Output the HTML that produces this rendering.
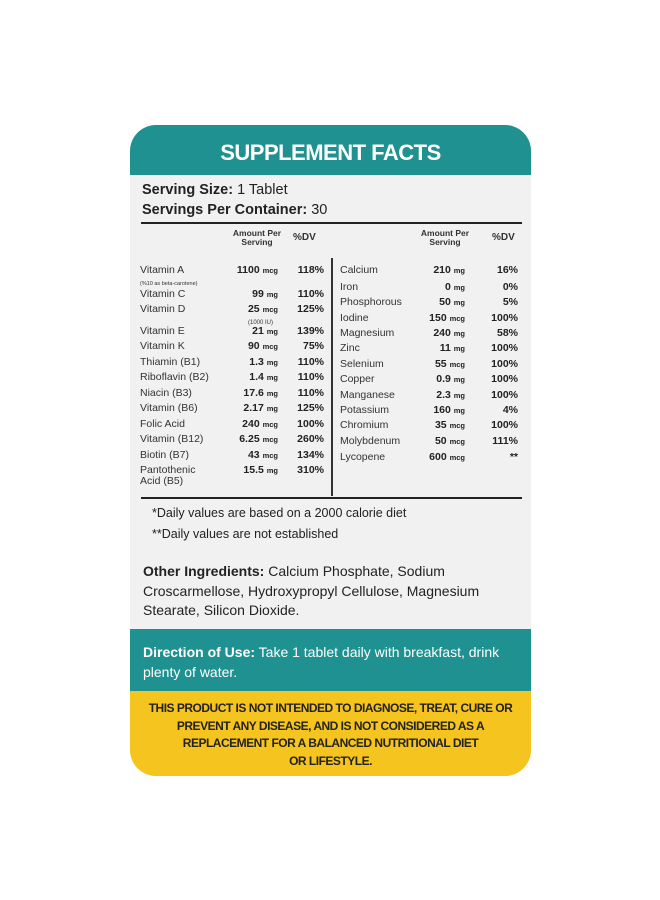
<!DOCTYPE html>
<html><head><meta charset="utf-8"><style>
body{margin:0;width:660px;height:900px;background:#fff;font-family:"Liberation Sans",sans-serif;color:#222;position:relative;overflow:hidden}
.card{position:absolute;left:130px;top:125px;width:401px;height:651px;border-radius:26px;overflow:hidden;background:#f1f1f1}
.a{position:absolute;white-space:nowrap}
.hdr{left:0;top:0;width:401px;height:50px;background:#1f9190}
.n{font-size:10.5px;color:#333}
.v{font-size:10.5px;font-weight:bold;text-align:right}
.v small{font-size:7.5px}
.p{font-size:10.5px;font-weight:bold;text-align:right}
.ch{font-size:8.5px;font-weight:bold;text-align:center;line-height:9px;color:#333}
</style></head><body>
<div class="card">
<div class="a hdr"></div>
<div class="a" style="left:0;width:401px;top:15px;text-align:center;color:#fff;font-weight:bold;font-size:22px;letter-spacing:-0.5px">SUPPLEMENT FACTS</div>
<div class="a" style="left:12px;top:57px;font-size:14.5px"><b>Serving Size:</b> 1 Tablet</div>
<div class="a" style="left:12px;top:77px;font-size:14.5px"><b>Servings Per Container:</b> 30</div>
<div class="a" style="left:11px;top:97px;width:381px;height:2px;background:#222"></div>
<div class="a ch" style="left:97px;top:104px;width:60px">Amount Per<br>Serving</div>
<div class="a ch" style="left:163px;top:108px;font-size:10px">%DV</div>
<div class="a ch" style="left:285px;top:104px;width:60px">Amount Per<br>Serving</div>
<div class="a ch" style="left:362px;top:108px;font-size:10px">%DV</div>
<div class="a" style="left:201px;top:133px;width:2px;height:238px;background:#333"></div>
<div id="rows"></div>
<div class="a" style="left:11px;top:372px;width:381px;height:2px;background:#222"></div>
<div class="a" style="left:22px;top:381px;font-size:12.5px">*Daily values are based on a 2000 calorie diet</div>
<div class="a" style="left:22px;top:402px;font-size:12.5px">**Daily values are not established</div>
<div class="a" style="left:13px;top:437px;font-size:14px;line-height:19.5px;white-space:normal;width:385px"><b>Other Ingredients:</b> Calcium Phosphate, Sodium Croscarmellose, Hydroxypropyl Cellulose, Magnesium Stearate, Silicon Dioxide.</div>
<div class="a" style="left:0;top:504px;width:401px;height:62px;background:#1f9190"></div>
<div class="a" style="left:13px;top:517px;font-size:14px;line-height:20px;color:#fff;white-space:normal;width:385px"><b>Direction of Use:</b> Take 1 tablet daily with breakfast, drink plenty of water.</div>
<div class="a" style="left:0;top:566px;width:401px;height:85px;background:#f6c41e"></div>
<div class="a" style="left:0;top:575px;width:401px;text-align:center;font-weight:bold;font-size:12px;line-height:17.5px;letter-spacing:-0.5px;color:#222;white-space:normal">THIS PRODUCT IS NOT INTENDED TO DIAGNOSE, TREAT, CURE OR<br>PREVENT ANY DISEASE, AND IS NOT CONSIDERED AS A<br>REPLACEMENT FOR A BALANCED NUTRITIONAL DIET<br>OR LIFESTYLE.</div>
</div>
<script>
const leftNames=["Vitamin A","Vitamin C","Vitamin D","Vitamin E","Vitamin K","Thiamin (B1)","Riboflavin (B2)","Niacin (B3)","Vitamin (B6)","Folic Acid","Vitamin (B12)","Biotin (B7)","Pantothenic"];
const leftAmts=["1100","99","25","21","90","1.3","1.4","17.6","2.17","240","6.25","43","15.5"];
const leftUnits=["mcg","mg","mcg","mg","mcg","mg","mg","mg","mg","mcg","mcg","mcg","mg"];
const leftDV=["118%","110%","125%","139%","75%","110%","110%","110%","125%","100%","260%","134%","310%"];
const leftY=[139,163,178,200,215,231,246,262,277,293,308,324,339];
const rightNames=["Calcium","Iron","Phosphorous","Iodine","Magnesium","Zinc","Selenium","Copper","Manganese","Potassium","Chromium","Molybdenum","Lycopene"];
const rightAmts=["210","0","50","150","240","11","55","0.9","2.3","160","35","50","600"];
const rightUnits=["mg","mg","mg","mcg","mg","mg","mcg","mg","mg","mg","mcg","mcg","mcg"];
const rightDV=["16%","0%","5%","100%","58%","100%","100%","100%","100%","4%","100%","111%","**"];
const rightY=[139,156,171,187,202,217,233,248,264,279,294,310,326];
const c=document.querySelector('.card');
function add(cls,txt,x,y,w,name){const d=document.createElement('div');d.className='a '+cls;d.innerHTML=txt;d.style.left=x+'px';d.style.top=y+'px';if(w)d.style.width=w+'px';


c.appendChild(d);return d;}
leftNames.forEach((n,i)=>{const y=leftY[i];
add('n',n,10,y,0,'nutrient-name');
add('v',leftAmts[i]+' <small>'+leftUnits[i]+'</small>',70,y,78,'nutrient-amount');
add('p',leftDV[i],150,y,44,'nutrient-dv');});
add('n','Acid (B5)',10,350,0,'nutrient-name');
add('n','<span style="font-size:5.5px">(%10 as beta-carotene)</span>',10,151,0,'nutrient-note');
add('n','<span style="font-size:6px">(1000 IU)</span>',118,190,0,'nutrient-note');
rightNames.forEach((n,i)=>{const y=rightY[i];
add('n',n,210,y,0,'nutrient-name');
add('v',rightAmts[i]+' <small>'+rightUnits[i]+'</small>',255,y,80,'nutrient-amount');
add('p',rightDV[i],340,y,48,'nutrient-dv');});
</script>
</body></html>
